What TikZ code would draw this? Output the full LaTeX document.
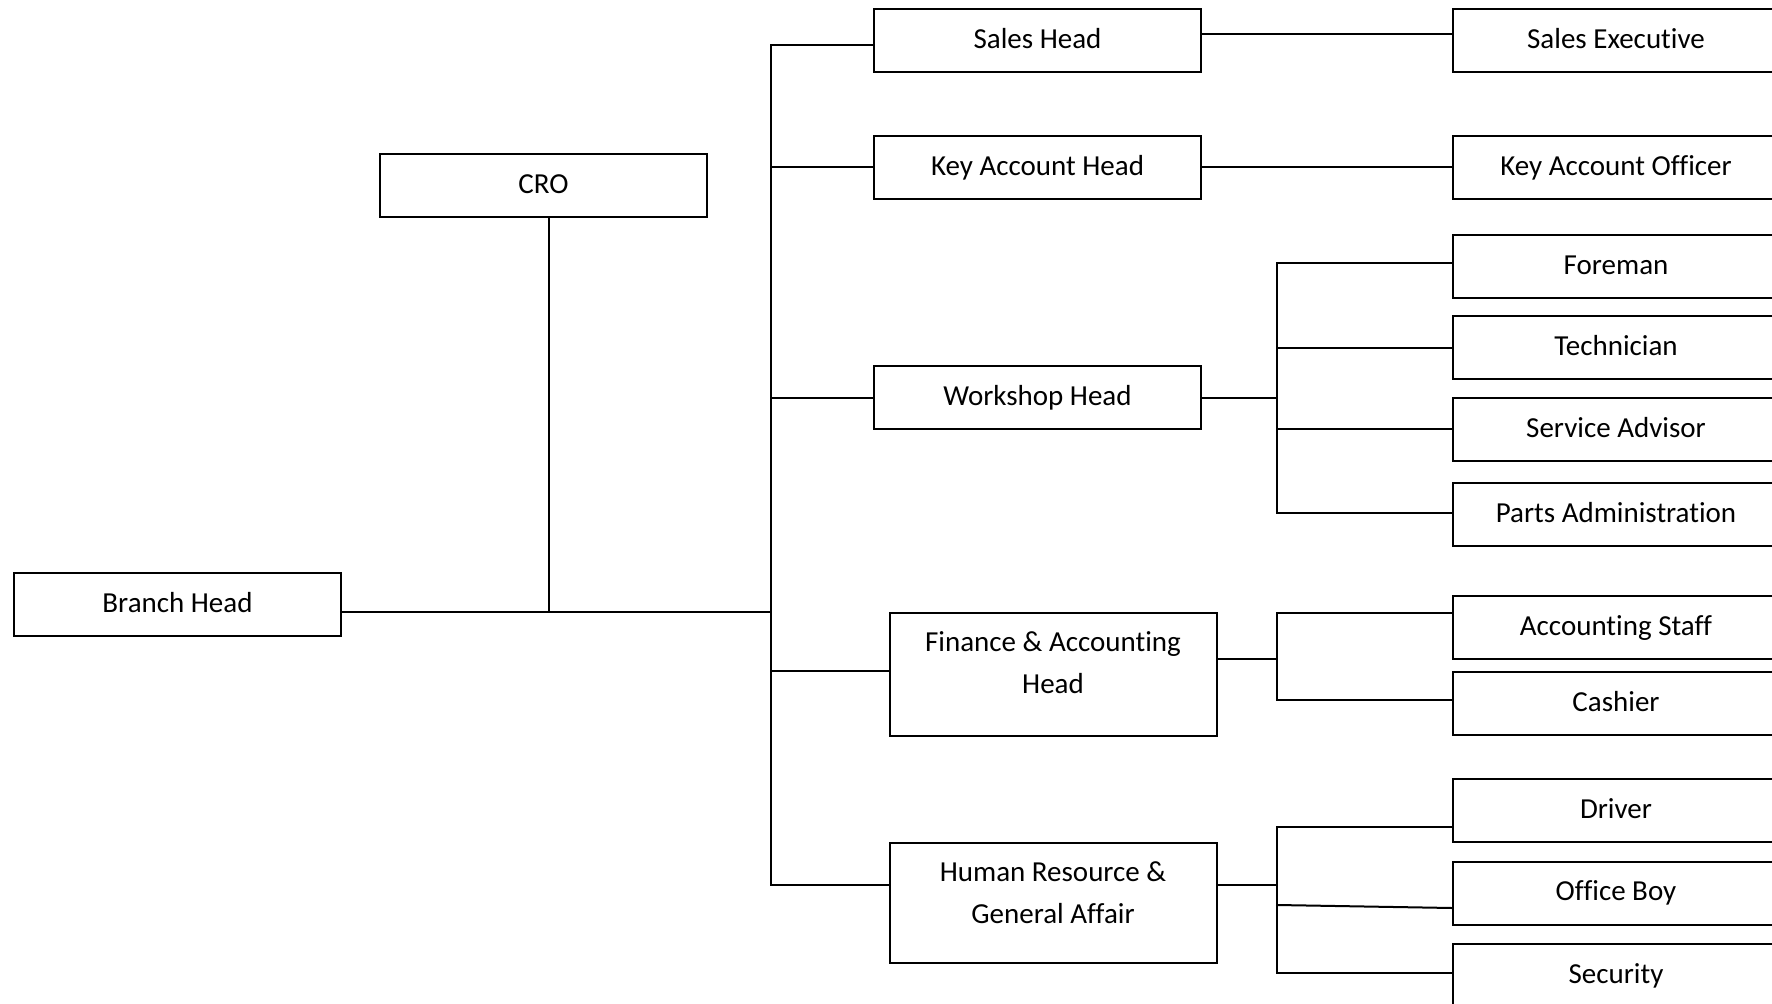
\documentclass[tikz,border=0pt]{standalone}
\usepackage{fontspec}
\setmainfont{Carlito}[Ligatures=NoCommon, RawFeature={-liga;-clig;-dlig;-calt;-rlig}]
\newcommand{\nolig}{\kern0pt\relax}
\begin{document}
\begin{tikzpicture}[x=0.5pt,y=-0.5pt, line width=1pt, line cap=rect,
  box/.style={draw, line width=1pt, minimum width=163.5pt, minimum height=31.5pt, inner sep=0pt,
    font=\fontsize{14.5}{21}\selectfont, text height=9.5pt, text depth=1.8pt},
  lbl/.style={align=center, inner sep=0pt, font=\fontsize{14.5}{21}\selectfont}]
\useasboundingbox (0,0) rectangle (1772,1004);
\clip (0,0) rectangle (1772,1004);

% left
\node[box] (branch) at (177.5,604.5) {Branch Head};
\node[box] (cro) at (543.5,185.5) {CRO};

% middle column
\node[box] (sales) at (1037.5,40.5) {Sales Head};
\node[box] (kah) at (1037.5,167.5) {Key Account Head};
\node[box] (wsh) at (1037.5,397.5) {Workshop Head};
\node[box, minimum height=61.5pt] (fin) at (1053,674.5) {};
\node[lbl] (fint) at (1053,663) {Finance \& Account\nolig ing\\Head};
\node[box, minimum height=60pt] (hr) at (1053,903) {};
\node[lbl] (hrt) at (1053,892.5) {Human Resource \&\\General Affair};

% right column
\node[box] (sexec) at (1616,40.5) {Sales Execut\nolig ive};
\node[box] (kao) at (1616,167.5) {Key Account Off\nolig icer};
\node[box] (fore) at (1616,266.5) {Foreman};
\node[box] (tech) at (1616,348) {Technician};
\node[box] (sadv) at (1616,429.5) {Service Advisor};
\node[box] (parts) at (1616,514.5) {Parts Administrat\nolig ion};
\node[box] (acc) at (1616,627.5) {Account\nolig ing Staff};
\node[box] (cash) at (1616,704) {Cashier};
\node[box] (driver) at (1616,810.5) {Driver};
\node[box] (oboy) at (1616,893) {Off\nolig ice Boy};
\node[box] (sec) at (1616,975.5) {Security};

% coordinates
\coordinate (j0) at (771,612);
\coordinate (c0) at (549,612);
\coordinate (t1) at (771,45);
\coordinate (t2) at (771,167);
\coordinate (t3) at (771,398);
\coordinate (t4) at (771,671);
\coordinate (t5) at (771,885);
\coordinate (y1) at (0,34);
\coordinate (w0) at (1277,398);
\coordinate (w1) at (1277,263);
\coordinate (w2) at (1277,348);
\coordinate (w3) at (1277,429);
\coordinate (w4) at (1277,513);
\coordinate (f0) at (1277,659);
\coordinate (f1) at (1277,613);
\coordinate (f2) at (1277,700);
\coordinate (h0) at (1277,885);
\coordinate (h1) at (1277,827);
\coordinate (h2) at (1277,905);
\coordinate (h3) at (1277,973);
\coordinate (hy) at (0,908);

% connectors
\draw (branch.east |- j0) -- (j0);
\draw (cro.south -| c0) -- (c0);
\draw (t1 -| sales.west) -- (t1) -- (t5) -- (t5 -| hr.west);
\draw (t2) -- (t2 -| kah.west);
\draw (t3) -- (t3 -| wsh.west);
\draw (t4) -- (t4 -| fin.west);

\draw (sales.east |- y1) -- (sexec.west |- y1);
\draw (kah.east) -- (kao.west);

\draw (wsh.east |- w0) -- (w0);
\draw (w1 -| fore.west) -- (w1) -- (w4) -- (w4 -| parts.west);
\draw (w2) -- (w2 -| tech.west);
\draw (w3) -- (w3 -| sadv.west);

\draw (fin.east |- f0) -- (f0);
\draw (f1 -| acc.west) -- (f1) -- (f2) -- (f2 -| cash.west);

\draw (hr.east |- h0) -- (h0);
\draw (h1 -| driver.west) -- (h1) -- (h3) -- (h3 -| sec.west);
\draw (h2) -- (oboy.west |- hy);
\end{tikzpicture}
\end{document}
